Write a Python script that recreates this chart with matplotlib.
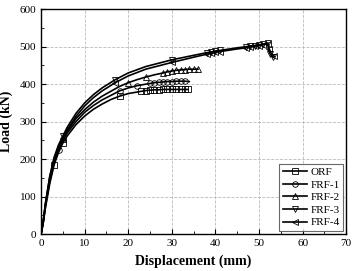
import matplotlib
matplotlib.use('Agg')
import matplotlib.pyplot as plt
from matplotlib.ticker import MultipleLocator

plt.rcParams['font.family'] = ['Liberation Serif', 'DejaVu Serif']

# load-displacement curves (mm, kN)
orf_d = [0, 0.5, 1, 2, 3, 4, 5, 6, 8, 10, 12, 14, 16, 18, 20, 22, 23, 24, 25, 26, 27, 28, 29, 30, 31, 32, 33, 33.7]
orf_l = [0, 30, 70, 135, 185, 218, 243, 262, 292, 315, 333, 347, 359, 368, 375, 379, 381, 383, 384, 385, 385, 386, 386, 386, 386, 386, 386, 386]

frf1_d = [0, 0.5, 1, 2, 3, 4, 5, 6, 8, 10, 12, 14, 16, 18, 20, 22, 24, 25, 26, 27, 28, 29, 30, 31, 32, 33, 34]
frf1_l = [0, 32, 75, 142, 192, 225, 250, 270, 300, 325, 343, 358, 370, 382, 390, 396, 400, 402, 404, 405, 406, 407, 407, 408, 408, 408, 407]

frf2_d = [0, 0.5, 1, 2, 3, 4, 5, 6, 8, 10, 12, 14, 16, 18, 20, 22, 24, 26, 28, 29, 30, 31, 32, 33, 34, 35, 36]
frf2_l = [0, 33, 78, 148, 198, 230, 255, 275, 308, 332, 352, 368, 381, 394, 404, 412, 419, 425, 430, 433, 435, 437, 438, 439, 440, 440, 440]

frf3_d = [0, 0.5, 1, 2, 3, 4, 5, 6, 8, 10, 12, 14, 17, 20, 24, 28, 30, 35, 38, 39, 40, 41, 45, 47, 48, 49, 50, 51, 52, 52.2, 52.6, 53.2]
frf3_l = [0, 35, 82, 155, 205, 238, 262, 285, 322, 350, 372, 390, 412, 430, 447, 459, 465, 477, 484, 486, 488, 490, 497, 500, 502, 503, 505, 507, 510, 490, 480, 472]

frf4_d = [0, 0.5, 1, 2, 3, 4, 5, 6, 8, 10, 12, 14, 17, 20, 24, 28, 30, 35, 38, 39, 40, 41, 45, 47, 48, 49, 50, 51, 52, 52.3, 52.8, 53.5]
frf4_l = [0, 34, 80, 152, 200, 232, 256, 278, 314, 342, 364, 382, 404, 422, 440, 452, 458, 472, 480, 482, 485, 487, 494, 497, 499, 501, 503, 505, 508, 495, 482, 474]

labels = ['ORF', 'FRF-1', 'FRF-2', 'FRF-3', 'FRF-4']
markers = ['s', 'o', '^', 'v', '<']
# which points carry a marker
marks = [
    [4, 6, 13, 16, 17, 18, 19, 20, 21, 22, 23, 24, 25, 26, 27],
    [5, 13, 15, 17, 18, 19, 20, 21, 22, 23, 24, 25],
    [6, 14, 16, 18, 19, 20, 21, 22, 23, 24, 25, 26],
    [6, 12, 16, 18, 19, 20, 21, 23, 24, 25, 26, 27, 28, 30, 31],
    [6, 12, 16, 18, 19, 20, 21, 23, 24, 25, 26, 27, 28, 29, 31],
]

fig, ax = plt.subplots(figsize=(3.54, 2.71), dpi=100)
fig.subplots_adjust(left=0.116, right=0.978, top=0.966, bottom=0.136)

curves = [(orf_d, orf_l), (frf1_d, frf1_l), (frf2_d, frf2_l), (frf3_d, frf3_l), (frf4_d, frf4_l)]
for (d, l), lab, m, mk in zip(curves, labels, markers, marks):
    ax.plot(d, l, color='black', lw=1.2, marker=m, ms=4, mfc='none',
            mec='black', mew=0.6, markevery=mk, label=lab)

ax.set_xlim(0, 70)
ax.set_ylim(0, 600)
ax.xaxis.set_major_locator(MultipleLocator(10))
ax.xaxis.set_minor_locator(MultipleLocator(5))
ax.yaxis.set_major_locator(MultipleLocator(100))
ax.yaxis.set_minor_locator(MultipleLocator(50))
ax.tick_params(which='both', direction='in', labelsize=8)
ax.tick_params(which='major', length=3.5)
ax.tick_params(which='minor', length=2)
ax.grid(True, which='major', ls='--', color='#bbbbbb', lw=0.6)
for s in ax.spines.values():
    s.set_linewidth(1.0)

ax.set_xlabel('Displacement (mm)', fontsize=10, fontweight='bold', labelpad=5)
ax.set_ylabel('Load (kN)', fontsize=10, fontweight='bold', labelpad=5)

leg = ax.legend(loc='lower right', fontsize=8, frameon=True, fancybox=False,
                edgecolor='#444444', handlelength=2.2, labelspacing=0.25,
                borderpad=0.3, handletextpad=0.3, borderaxespad=0.3)
leg.get_frame().set_linewidth(0.8)

fig.savefig('out.png', dpi=100)
